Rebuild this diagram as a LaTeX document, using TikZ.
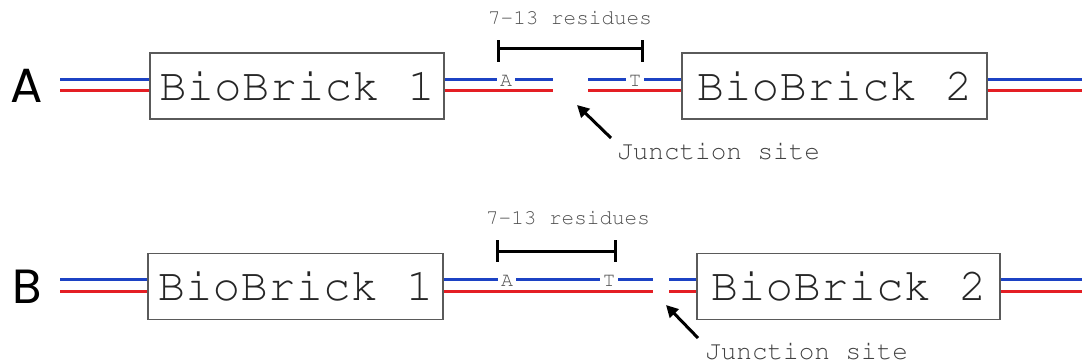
\documentclass[tikz,border=0pt]{standalone}
\usepackage[T1,TU]{fontenc}
\usepackage{fontspec}
\setmainfont{Liberation Sans}
\newfontfamily\rowfont{Poppins}
\newcommand\courierfont{\fontencoding{T1}\fontfamily{pcr}\selectfont}
\usetikzlibrary{arrows.meta}
\definecolor{strandblue}{RGB}{28,66,196}
\definecolor{strandred}{RGB}{228,30,36}
\definecolor{textgray}{RGB}{80,80,80}
\definecolor{boxgray}{RGB}{90,90,90}
\begin{document}
\begin{tikzpicture}[x=1pt,y=-1pt,
  brick/.style={draw=boxgray, line width=1.3pt, fill=white, minimum height=66pt, inner sep=0pt,
    text=black!85, font=\courierfont\fontsize{46}{46}\selectfont},
  bluestrand/.style={strandblue, line width=3pt},
  redstrand/.style={strandred, line width=3pt},
  base/.style={font=\courierfont\fontsize{20}{20}\selectfont, text=textgray, fill=white,
    inner xsep=3pt, inner ysep=0pt},
  rowlabel/.style={font=\rowfont\fontsize{48}{48}\selectfont, text=black, inner sep=0pt},
  note/.style={font=\courierfont\fontsize{21}{21}\selectfont, text=textgray, inner sep=0pt},
  junction/.style={font=\courierfont\fontsize{26}{26}\selectfont, text=black!75, inner sep=0pt, anchor=west},
  bracket/.style={line width=3pt, black},
  pointer/.style={line width=3pt, black, -{Triangle[length=12pt,width=12pt]}}
]
\useasboundingbox (0,0) rectangle (1082,364);

% ---------------- Row A ----------------
\node[rowlabel] (labA) at (27,86) {A};
\node[brick, minimum width=294pt] (b1A) at (297,86) {BioBrick 1};
\node[brick, minimum width=305pt] (b2A) at (834.5,86) {BioBrick 2};

\coordinate (lbA) at (60,79);
\coordinate (lrA) at (60,90);
\coordinate (m1bA) at (553,79);
\coordinate (m1rA) at (553,90);
\coordinate (m2bA) at (588,79);
\coordinate (m2rA) at (588,90);
\coordinate (rbA) at (1082,79);
\coordinate (rrA) at (1082,90);

\draw[bluestrand] (lbA) -- (b1A.west |- lbA);
\draw[redstrand] (lrA) -- (b1A.west |- lrA);
\draw[bluestrand] (b1A.east |- m1bA) -- (m1bA);
\draw[redstrand] (b1A.east |- m1rA) -- (m1rA);
\draw[bluestrand] (m2bA) -- (b2A.west |- m2bA);
\draw[redstrand] (m2rA) -- (b2A.west |- m2rA);
\draw[bluestrand] (b2A.east |- rbA) -- (rbA);
\draw[redstrand] (b2A.east |- rrA) -- (rrA);

\node[base] (aA) at (506,81) {A};
\node[base] (tA) at (635,81) {T};

\coordinate (brLA) at (498,40);
\coordinate (brRA) at (642,40);
\draw[bracket] (brLA) -- ++(0,22);
\draw[bracket] (brRA) -- ++(0,22);
\draw[bracket] ([yshift=-8pt]brLA) -- ([yshift=-8pt]brRA);
\node[note] (resA) at (570,18) {7-13 residues};

\node[junction] (jA) at (617,151) {Junction site};
\coordinate (tailA) at (611,138);
\coordinate (tipA) at (577,105);
\draw[pointer] (tailA) -- (tipA);

% ---------------- Row B ----------------
\node[rowlabel] (labB) at (27,287) {B};
\node[brick, minimum width=295pt] (b1B) at (295.5,286.5) {BioBrick 1};
\node[brick, minimum width=303pt] (b2B) at (848.5,286.5) {BioBrick 2};

\coordinate (lbB) at (60,279);
\coordinate (lrB) at (60,291);
\coordinate (m1bB) at (653,279);
\coordinate (m1rB) at (653,291);
\coordinate (m2bB) at (669,279);
\coordinate (m2rB) at (669,291);
\coordinate (rbB) at (1082,279);
\coordinate (rrB) at (1082,291);

\draw[bluestrand] (lbB) -- (b1B.west |- lbB);
\draw[redstrand] (lrB) -- (b1B.west |- lrB);
\draw[bluestrand] (b1B.east |- m1bB) -- (m1bB);
\draw[redstrand] (b1B.east |- m1rB) -- (m1rB);
\draw[bluestrand] (m2bB) -- (b2B.west |- m2bB);
\draw[redstrand] (m2rB) -- (b2B.west |- m2rB);
\draw[bluestrand] (b2B.east |- rbB) -- (rbB);
\draw[redstrand] (b2B.east |- rrB) -- (rrB);

\node[base] (aB) at (507,281) {A};
\node[base] (tB) at (609,281) {T};

\coordinate (brLB) at (497,240);
\coordinate (brRB) at (615,240);
\draw[bracket] (brLB) -- ++(0,22);
\draw[bracket] (brRB) -- ++(0,22);
\draw[bracket] ([yshift=-11pt]brLB) -- ([yshift=-11pt]brRB);
\node[note] (resB) at (568,218) {7-13 residues};

\node[junction] (jB) at (705,351) {Junction site};
\coordinate (tailB) at (698,338);
\coordinate (tipB) at (666,305);
\draw[pointer] (tailB) -- (tipB);
\end{tikzpicture}
\end{document}
